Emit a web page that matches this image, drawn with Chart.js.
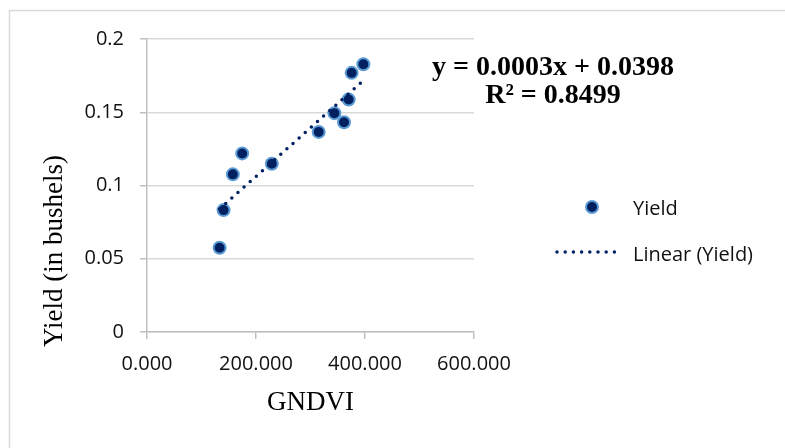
<!DOCTYPE html>
<html>
<head>
<meta charset="utf-8">
<title>Yield vs GNDVI</title>
<script src="https://cdn.jsdelivr.net/npm/chart.js@4.4.0/dist/chart.umd.min.js"></script>
<style>
  html, body { margin: 0; padding: 0; background: #fff; }
  #grafica { display: block; }
</style>
</head>
<body>
<canvas id="grafica" width="785" height="448"></canvas>
<script>
// Datos de la grafica

const gndvi = [133.2, 140.5, 157.5, 174.7, 229.0, 315.0, 343.8, 361.5, 370.0, 375.5, 397.0];
const yieldVals = [0.0575, 0.0832, 0.1076, 0.1219, 0.1148, 0.1366, 0.1494, 0.1432, 0.1587, 0.1769, 0.1828];

const xTicks = [0, 200, 400, 600];
const yTicks = [0, 0.05, 0.1, 0.15, 0.2];

// Linea de tendencia (y = pendiente * x + intercepto)
const pendiente = 0.000332;
const intercepto = 0.0398;
const r2 = 0.8499;

const azulOscuro = '#002060';
const azulClaro = '#5b9bd5';
const fuenteTicks = '"Open Sans", sans-serif';
const fuenteTitulos = '"Liberation Serif", "Times New Roman", serif';

const puntos = gndvi.map((x, i) => ({ x: x, y: yieldVals[i] }));

const xMin = Math.min(...gndvi);
const xMax = Math.max(...gndvi);
const tendencia = [
  { x: xMin, y: pendiente * xMin + intercepto },
  { x: xMax, y: pendiente * xMax + intercepto }
];

// Textos y leyenda dibujados encima del canvas

const decoracion = {
  id: 'decoracion',
  beforeDraw(chart) {
    const ctx = chart.ctx;
    ctx.save();
    ctx.strokeStyle = '#d9d9d9';
    ctx.lineWidth = 1.5;
    ctx.beginPath();
    ctx.moveTo(9.5, 460);
    ctx.lineTo(9.5, 10.5);
    ctx.lineTo(800, 10.5);
    ctx.stroke();
    ctx.restore();
  },
  afterDraw(chart) {
    const ctx = chart.ctx;
    const area = chart.chartArea;
    const sets = chart.data.datasets;
    ctx.save();

    // titulos de ejes
    ctx.fillStyle = '#000';
    ctx.font = '27px ' + fuenteTitulos;
    ctx.textAlign = 'center';
    ctx.textBaseline = 'alphabetic';
    ctx.fillText('GNDVI', (area.left + area.right) / 2, 410);

    ctx.save();
    ctx.translate(62, 251);
    ctx.rotate(-Math.PI / 2);
    ctx.fillText('Yield (in bushels)', 0, 0);
    ctx.restore();

    // ecuacion
    ctx.font = 'bold 28px ' + fuenteTitulos;
    ctx.fillText('y = ' + pendiente.toFixed(4) + 'x + ' + intercepto.toFixed(4), 553, 75);
    ctx.fillText('R\u00b2 = ' + r2.toFixed(4), 553, 103);

    // leyenda
    ctx.font = '20px ' + fuenteTicks;
    ctx.textAlign = 'left';

    const pts = sets[1];
    ctx.beginPath();
    ctx.arc(592, 207, pts.pointRadius, 0, Math.PI * 2);
    ctx.fillStyle = pts.backgroundColor;
    ctx.fill();
    ctx.lineWidth = pts.borderWidth;
    ctx.strokeStyle = pts.borderColor;
    ctx.stroke();
    ctx.fillStyle = '#111';
    ctx.fillText(pts.label, 633, 215);

    const lin = sets[0];
    ctx.beginPath();
    ctx.setLineDash(lin.borderDash);
    ctx.lineCap = 'round';
    ctx.lineWidth = lin.borderWidth;
    ctx.strokeStyle = lin.borderColor;
    ctx.moveTo(557, 252);
    ctx.lineTo(620, 252);
    ctx.stroke();
    ctx.setLineDash([]);
    ctx.fillText(lin.label, 633, 261);

    ctx.restore();
  }
};

const grafica = new Chart(document.getElementById('grafica'), {
  type: 'scatter',
  data: {
    datasets: [{
      label: 'Linear (Yield)',
      data: tendencia,
      showLine: true,
      pointRadius: 0,
      borderColor: azulOscuro,
      borderWidth: 3.5,
      borderDash: [0, 8.2],
      borderCapStyle: 'round',
      order: 0
    }, {
      label: 'Yield',
      data: puntos,
      pointRadius: 6,
      pointHoverRadius: 6,
      backgroundColor: azulOscuro,
      borderColor: azulClaro,
      borderWidth: 2,
      order: 1
    }]
  },
  options: {
    responsive: false,
    animation: false,
    devicePixelRatio: 1,
    layout: { padding: { top: 39, right: 311, left: 0, bottom: 0 } },
    plugins: {
      legend: { display: false },
      tooltip: { enabled: false }
    },
    scales: {
      x: {
        type: 'linear',
        min: 0,
        max: 600,
        afterBuildTicks: s => { s.ticks = xTicks.map(v => ({ value: v })); },
        afterFit: s => { s.height = 116; },
        ticks: {
          padding: 13,
          color: '#111',
          font: { family: fuenteTicks, size: 20 },
          callback: v => v.toFixed(3)
        },
        grid: {
          drawOnChartArea: false,
          tickLength: 7,
          color: '#bfbfbf',
          lineWidth: 1.5
        },
        border: { color: '#bfbfbf', width: 1.5 }
      },
      y: {
        min: 0,
        max: 0.2,
        afterBuildTicks: s => { s.ticks = yTicks.map(v => ({ value: v })); },
        afterFit: s => { s.width = 147; },
        ticks: {
          padding: 16,
          color: '#111',
          font: { family: fuenteTicks, size: 20 },
          callback: v => String(Number(v.toFixed(2)))
        },
        grid: {
          color: '#d9d9d9',
          tickColor: '#bfbfbf',
          tickLength: 7,
          lineWidth: 1.5
        },
        border: { color: '#bfbfbf', width: 1.5 }
      }
    }
  },
  plugins: [decoracion]
});
</script>
</body>
</html>
